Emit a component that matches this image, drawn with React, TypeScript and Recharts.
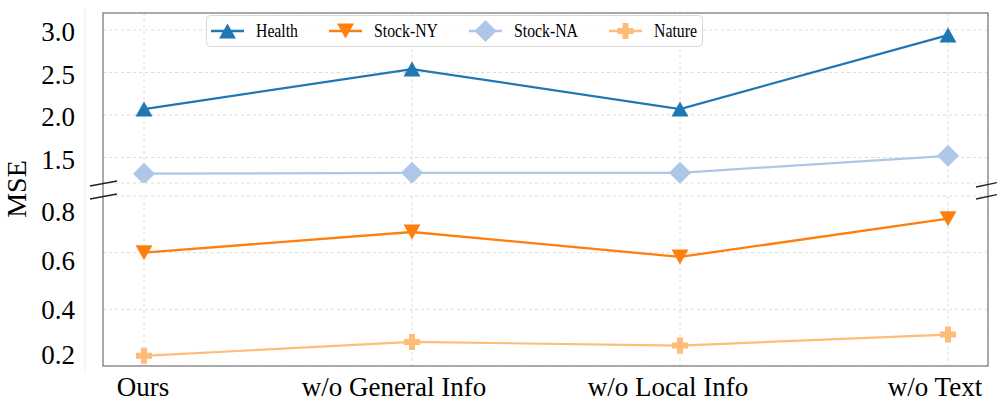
import React from 'react';
import { LineChart, Line, XAxis, YAxis, CartesianGrid } from 'recharts';

const categories = ['Ours', 'w/o General Info', 'w/o Local Info', 'w/o Text'];
const health = [2.07, 2.54, 2.07, 2.94];
const stockNA = [1.31, 1.32, 1.32, 1.52];
const stockNY = [0.6, 0.673, 0.585, 0.72];
const nature = [0.236, 0.285, 0.272, 0.311];
const topTicks = [1.5, 2.0, 2.5, 3.0];
const bottomTicks = [0.2, 0.4, 0.6, 0.8];
const topDomain = [1.2, 3.2];
const bottomDomain = [0.2, 0.8];
const seriesNames = ['Health', 'Stock-NY', 'Stock-NA', 'Nature'];

const data = categories.map((c, i) => ({
  cat: c,
  health: health[i],
  stockNA: stockNA[i],
  stockNY: stockNY[i],
  nature: nature[i],
}));

// layout / style constants
const W = 997;
const H = 406;
const PL = 103;
const PR = 988;
const TOP1 = 13;
const BOT1 = 183;
const TOP2 = 196;
const BOT2 = 366;
const FONT = '"Liberation Serif", "Times New Roman", serif';
const COLORS = { health: '#1f77b4', stockNY: '#ff7f0e', stockNA: '#aec7e8', nature: '#ffbb78' };
const bottomLabelShift: Record<string, number> = { '0.8': 16, '0.6': 8, '0.4': 0, '0.2': -11 };
const xLabelShift = [-1, -18, -12, -13];
const legendTextStart = [50, 168, 308, 448];
const legendTextWidth = [42, 64, 64, 43];

const TriUp = (cx: number, cy: number, c: string) => (
  <polygon points={`${cx},${cy - 7.5} ${cx - 8.5},${cy + 7.5} ${cx + 8.5},${cy + 7.5}`} fill={c} />
);
const TriDown = (cx: number, cy: number, c: string) => (
  <polygon points={`${cx},${cy + 7.5} ${cx - 8.5},${cy - 7.5} ${cx + 8.5},${cy - 7.5}`} fill={c} />
);
const Diamond = (cx: number, cy: number, c: string) => (
  <polygon points={`${cx},${cy - 11} ${cx + 11},${cy} ${cx},${cy + 11} ${cx - 11},${cy}`} fill={c} />
);
const Plus = (cx: number, cy: number, c: string) => (
  <path d={`M${cx - 3},${cy - 8}h6v5h5v6h-5v5h-6v-5h-5v-6h5z`} fill={c} />
);

const makeDot = (fn: (x: number, y: number, c: string) => React.ReactElement, c: string) => (props: any) => {
  const { cx, cy, index } = props;
  if (cx == null || cy == null) return <g key={index} />;
  return <g key={index}>{fn(cx, cy, c)}</g>;
};

const TopYTick = (props: any) => {
  const { x, y, payload } = props;
  return (
    <text x={x} y={y + 2} dy="0.35em" textAnchor="end" fontFamily={FONT} fontSize={27} fill="#000">
      {payload.value.toFixed(1)}
    </text>
  );
};
const BottomYTick = (props: any) => {
  const { x, y, payload } = props;
  const k = payload.value.toFixed(1);
  return (
    <text x={x} y={y + (bottomLabelShift[k] || 0)} dy="0.35em" textAnchor="end" fontFamily={FONT} fontSize={27} fill="#000">
      {k}
    </text>
  );
};
const XTick = (props: any) => {
  const { x, y, payload, index } = props;
  return (
    <text x={x + (xLabelShift[index] || 0)} y={y + 30} textAnchor="middle" fontFamily={FONT} fontSize={27} fill="#000">
      {payload.value}
    </text>
  );
};

const legendItems = [
  { name: seriesNames[0], color: COLORS.health, m: TriUp },
  { name: seriesNames[1], color: COLORS.stockNY, m: TriDown },
  { name: seriesNames[2], color: COLORS.stockNA, m: Diamond },
  { name: seriesNames[3], color: COLORS.nature, m: Plus },
];

export default function App() {
  const grid = <CartesianGrid stroke="#dcdcdc" strokeDasharray="3 3" />;
  return (
    <div style={{ position: 'absolute', left: 0, top: 0, width: W, height: H, background: '#fff' }}>
      <div style={{ position: 'absolute', left: 0, top: 0 }}>
        <LineChart width={W} height={H} data={data} margin={{ top: TOP1, right: W - PR, bottom: H - BOT1, left: 0 }}>
          {grid}
          <XAxis dataKey="cat" hide padding={{ left: 41, right: 40 }} />
          <YAxis
            width={PL}
            domain={topDomain}
            ticks={topTicks}
            type="number"
            axisLine={false}
            tickLine={false}
            tickSize={0}
            tickMargin={28}
            tick={<TopYTick />}
            allowDataOverflow
          />
          <Line dataKey="health" stroke={COLORS.health} strokeWidth={2.3} dot={makeDot(TriUp, COLORS.health)} isAnimationActive={false} />
          <Line dataKey="stockNA" stroke={COLORS.stockNA} strokeWidth={2.2} dot={makeDot(Diamond, COLORS.stockNA)} isAnimationActive={false} />
        </LineChart>
      </div>
      <div style={{ position: 'absolute', left: 0, top: 0 }}>
        <LineChart width={W} height={H} data={data} margin={{ top: TOP2, right: W - PR, bottom: 0, left: 0 }}>
          {grid}
          <XAxis
            dataKey="cat"
            height={H - BOT2}
            padding={{ left: 41, right: 40 }}
            axisLine={false}
            tickLine={false}
            tickSize={0}
            tickMargin={0}
            tick={<XTick />}
            interval={0}
          />
          <YAxis
            width={PL}
            domain={bottomDomain}
            ticks={bottomTicks}
            type="number"
            axisLine={false}
            tickLine={false}
            tickSize={0}
            tickMargin={28}
            tick={<BottomYTick />}
            allowDataOverflow
          />
          <Line dataKey="stockNY" stroke={COLORS.stockNY} strokeWidth={2.3} dot={makeDot(TriDown, COLORS.stockNY)} isAnimationActive={false} />
          <Line dataKey="nature" stroke={COLORS.nature} strokeWidth={2.2} dot={makeDot(Plus, COLORS.nature)} isAnimationActive={false} />
        </LineChart>
      </div>
      <svg width={W} height={H} style={{ position: 'absolute', left: 0, top: 0, pointerEvents: 'none' }}>
        <line x1={85} y1={8} x2={85} y2={372} stroke="#eeeeee" strokeWidth={1} />
        <rect x={PL} y={TOP1} width={PR - PL} height={BOT2 - TOP1} fill="none" stroke="#808080" strokeWidth={1.3} />
        <g stroke="#222" strokeWidth={1.3}>
          <line x1={90} y1={186} x2={117} y2={181} />
          <line x1={90} y1={199} x2={117} y2={194} />
          <line x1={976} y1={187} x2={1000} y2={182} />
          <line x1={976} y1={199} x2={1000} y2={194} />
        </g>
        <text x={0} y={0} transform="translate(26, 189) rotate(-90)" textAnchor="middle" fontFamily={FONT} fontSize={28} fill="#000">
          MSE
        </text>
        <g transform="translate(206, 15)">
          <rect x={0.5} y={0.5} width={496} height={31} rx={4} fill="#fff" fillOpacity={0.85} stroke="#d9d9d9" />
          {legendItems.map((it, i) => {
            const ix = legendTextStart[i] - 45;
            return (
              <g key={it.name}>
                <line x1={ix} y1={16} x2={ix + 33} y2={16} stroke={it.color} strokeWidth={2.3} />
                {it.m(ix + 16.5, 16, it.color)}
                <text
                  x={legendTextStart[i]}
                  y={16}
                  dy="0.35em"
                  fontFamily={FONT}
                  fontSize={18.5}
                  textLength={legendTextWidth[i]}
                  lengthAdjust="spacingAndGlyphs"
                  fill="#000"
                >
                  {it.name}
                </text>
              </g>
            );
          })}
        </g>
      </svg>
    </div>
  );
}
